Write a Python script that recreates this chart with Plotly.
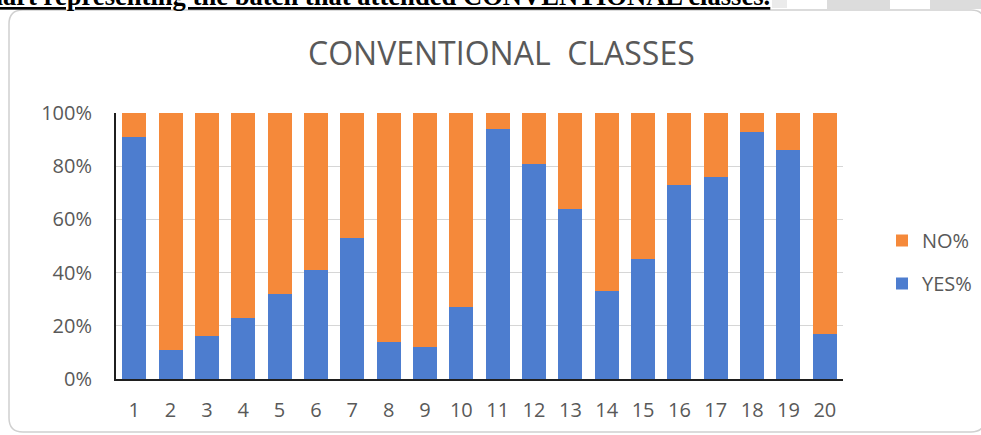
import plotly.graph_objects as go

W, H = 981, 435

categories = [str(i) for i in range(1, 21)]
yes_pct = [91, 11, 16, 23, 32, 41, 53, 14, 12, 27, 94, 81, 64, 33, 45, 73, 76, 93, 86, 17]
no_pct = [100 - v for v in yes_pct]
y_ticks = [0, 20, 40, 60, 80, 100]
y_tick_labels = ["0%", "20%", "40%", "60%", "80%", "100%"]

chart_title = "CONVENTIONAL  CLASSES"
caption = "Chart representing the batch that attended CONVENTIONAL classes."

BLUE = "#4D7DCF"
ORANGE = "#F5893A"
GREY_TEXT = "#595959"


def px(x):
    return x / W


def py(y):
    return 1 - y / H


fig = go.Figure()
fig.add_trace(go.Bar(x=categories, y=yes_pct, name="YES%", marker=dict(color=BLUE, line=dict(width=0)),
                     legendgroup="yes", legendrank=2))
fig.add_trace(go.Bar(x=categories, y=no_pct, name="NO%", marker=dict(color=ORANGE, line=dict(width=0)),
                     legendgroup="no", legendrank=1))

# rounded border path
x0, y0, x1, y1, r = 9, 10, 985, 432, 14
path = (
    f"M {px(x0 + r)},{py(y0)} L {px(x1 - r)},{py(y0)} Q {px(x1)},{py(y0)} {px(x1)},{py(y0 + r)} "
    f"L {px(x1)},{py(y1 - r)} Q {px(x1)},{py(y1)} {px(x1 - r)},{py(y1)} "
    f"L {px(x0 + r)},{py(y1)} Q {px(x0)},{py(y1)} {px(x0)},{py(y1 - r)} "
    f"L {px(x0)},{py(y0 + r)} Q {px(x0)},{py(y0)} {px(x0 + r)},{py(y0)} Z"
)

shapes = [
    dict(type="rect", xref="paper", yref="paper", x0=px(772), x1=px(787), y0=py(8), y1=py(0),
         fillcolor="#EBEBEB", line=dict(width=0), layer="below"),
    dict(type="rect", xref="paper", yref="paper", x0=px(827), x1=px(890), y0=py(9), y1=py(0),
         fillcolor="#DCDCDC", line=dict(width=0), layer="below"),
    dict(type="rect", xref="paper", yref="paper", x0=px(930), x1=px(981), y0=py(9), y1=py(0),
         fillcolor="#DCDCDC", line=dict(width=0), layer="below"),
    dict(type="path", xref="paper", yref="paper", path=path, fillcolor="white",
         line=dict(color="#D0D0D0", width=1.5), layer="below"),
]

annotations = [
    dict(text=chart_title, xref="paper", yref="paper", x=px(501.5), y=py(53),
         xanchor="center", yanchor="middle", showarrow=False,
         font=dict(family="Open Sans", size=32, color=GREY_TEXT)),
    dict(text="<b><u>" + caption + "</u></b>", xref="paper", yref="paper", x=px(772), y=py(-4.0),
         xanchor="right", yanchor="middle", showarrow=False,
         font=dict(family="Liberation Serif", size=26.6, color="black")),
]

fig.update_layout(
    width=W, height=H,
    margin=dict(l=0, r=0, t=0, b=0),
    paper_bgcolor="white", plot_bgcolor="white",
    barmode="stack", bargap=0.34,
    shapes=shapes, annotations=annotations,
    showlegend=True,
    legend=dict(x=px(882), y=py(262), xanchor="left", yanchor="middle",
                traceorder="grouped", tracegroupgap=14,
                font=dict(family="Open Sans", size=20, color=GREY_TEXT),
                bgcolor="rgba(0,0,0,0)"),
    xaxis=dict(domain=[px(116), px(843)], automargin=False, showgrid=False,
               showline=True, linecolor="#1F1F1F", linewidth=2, ticks="",
               tickfont=dict(family="Open Sans", size=20, color=GREY_TEXT),
               ticklabelstandoff=12, fixedrange=True),
    yaxis=dict(domain=[py(379), py(113)], range=[0, 100], automargin=False,
               tickvals=y_ticks, ticktext=y_tick_labels,
               showgrid=True, gridcolor="#D6D6D6", gridwidth=1.4, zeroline=False,
               showline=True, linecolor="#1F1F1F", linewidth=2, ticks="",
               tickfont=dict(family="Open Sans", size=20, color=GREY_TEXT),
               ticklabelstandoff=18, fixedrange=True),
)

fig.write_html("out.html")
